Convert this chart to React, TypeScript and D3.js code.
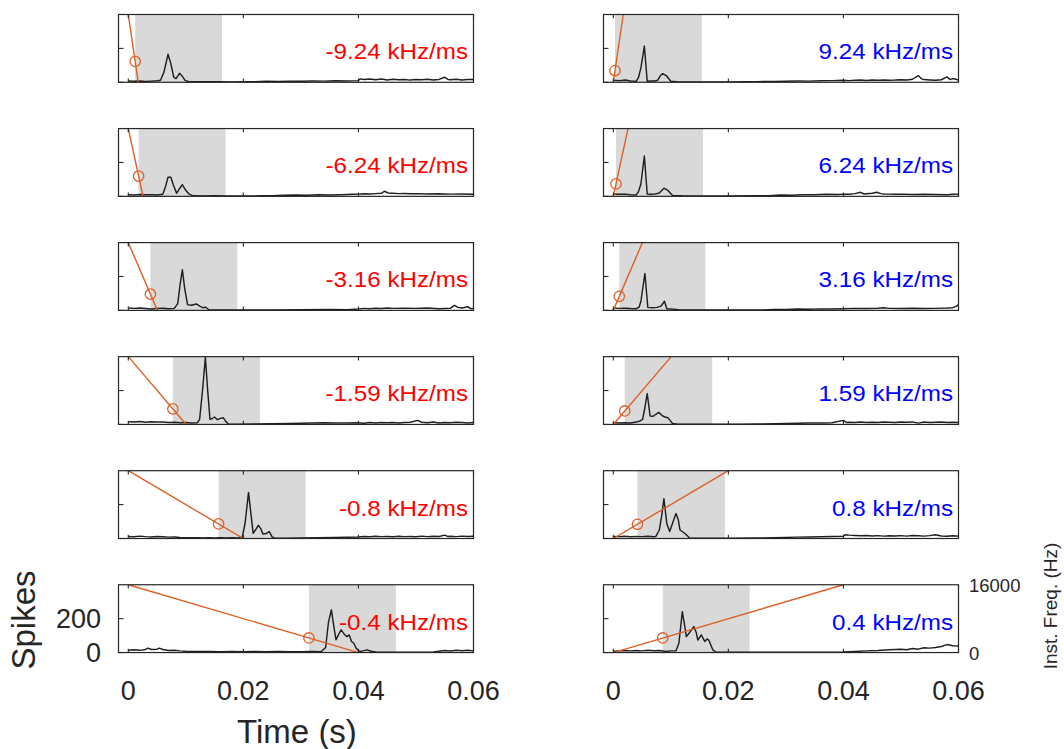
import React from "react";
import * as d3 from "d3";

// ---------- data ----------
const negSlopes = [-9.24, -6.24, -3.16, -1.59, -0.8, -0.4]; // kHz/ms, left column
const posSlopes = [9.24, 6.24, 3.16, 1.59, 0.8, 0.4]; // kHz/ms, right column

// analysis window (ms): start (also the circle position) and end
const negWinStart = [1.2, 1.8, 3.85, 7.75, 15.7, 31.4];
const negWinEnd = [16.3, 16.9, 18.95, 22.9, 30.8, 46.5];
const posWinStart = [0.3, 0.47, 1.05, 2.0, 4.2, 8.6];
const posWinEnd = [15.4, 15.6, 16.0, 17.2, 19.4, 23.7];

const xTicks = [0, 20, 40, 60]; // ms
const xTickLabels = ["0", "0.02", "0.04", "0.06"];
const yTicks = [0, 200];
const freqMax = 16000;
const spikeMax = 400;

// PSTH curves [ms, spikes]
const psthL1 = [[0,8],[1,6],[2,8],[3,5],[4,7],[5,9],[5.6,12],[6.2,60],[6.9,165],[7.4,110],[7.9,30],[8.3,22],[8.9,53],[9.4,35],[9.9,10],[10.5,5],[12,3],[14,4],[16,3],[18,2],[20,3],[22,4],[24,6],[26,5],[28,7],[30,6],[32,8],[34,7],[36,9],[38,8],[40,10],[40.3,20],[41,16],[42,20],[43,15],[44,19],[45,14],[46,18],[47,15],[48,17],[49,13],[50,16],[51,15],[52,18],[53,14],[54,17],[55,30],[55.6,16],[56,15],[57,18],[58,14],[59,17],[60,16]];
const psthL2 = [[0,10],[1,8],[2,11],[3,9],[4,10],[5,8],[6,12],[6.5,60],[6.9,113],[7.4,113],[7.8,70],[8.4,18],[8.9,45],[9.4,69],[9.9,40],[10.5,15],[11.3,3],[13,2],[15,3],[17,2],[20,2],[23,3],[25,4],[27,6],[29,8],[31,7],[33,9],[35,8],[37,10],[39,12],[40,13],[41,15],[42,14],[43,16],[44,18],[44.5,30],[45.2,20],[46,18],[47,16],[48,17],[49,15],[50,16],[52,14],[54,15],[56,13],[58,14],[60,12]];
const psthL3 = [[0,14],[1,12],[2,14],[3,11],[4,8],[5,12],[6,13],[7,10],[8,12],[8.6,40],[9.0,150],[9.4,240],[9.8,130],[10.3,34],[11,30],[11.8,38],[12.5,24],[13,15],[13.4,20],[14,4],[16,2],[20,2],[25,3],[30,4],[35,5],[38,4],[40,8],[41,12],[42,10],[43,13],[44,11],[45,14],[46,12],[48,13],[50,12],[52,14],[54,10],[56,13],[56.7,30],[57.3,18],[58,14],[59,22],[59.5,10],[60,12]];
const psthL4 = [[0,16],[1,14],[2,17],[3,13],[4,16],[5,14],[6,15],[7,12],[8,13],[9,10],[10,11],[11,9],[12,10],[12.4,30],[12.9,200],[13.4,396],[13.8,200],[14.2,30],[14.6,35],[15,44],[15.5,28],[16,36],[16.5,40],[17,15],[17.4,3],[19,2],[22,3],[25,4],[28,6],[30,7],[32,8],[34,10],[36,8],[38,9],[40,10],[41,7],[42,11],[43,9],[44,12],[45,10],[46,12],[47,9],[48,11],[49,13],[50.3,24],[51,13],[52,10],[53,14],[54,9],[55,12],[56,10],[57,13],[58,11],[59,9],[60,12]];
const psthL5 = [[0,12],[1,10],[2,14],[3,11],[4,9],[5,12],[6,10],[7,8],[8,9],[9,6],[10,5],[11,4],[12,4],[13,3],[14,4],[15,3],[16,4],[17,3],[18,4],[19,3],[19.8,6],[20.3,90],[20.9,272],[21.3,150],[21.7,31],[22.1,50],[22.6,78],[23.0,60],[23.4,27],[24.0,30],[24.5,41],[25,10],[25.5,2],[27,2],[30,3],[33,4],[36,6],[38,7],[40,9],[41,12],[42,10],[43,13],[44,11],[45,12],[46,10],[47,13],[48,11],[49,12],[50,10],[51,14],[52,11],[53,13],[54,12],[55,20],[55.5,12],[56,13],[57,11],[58,14],[59,12],[60,13]];
const psthL6 = [[0,14],[1,16],[2,13],[3,18],[3.4,26],[4,18],[5,20],[5.4,26],[6,18],[7,12],[8,14],[9,10],[10,8],[12,6],[14,6],[16,5],[18,6],[20,5],[22,6],[24,5],[26,6],[28,5],[30,5],[32,6],[33.5,5],[34.3,30],[34.8,180],[35.3,252],[35.7,160],[36.1,75],[36.6,110],[37.0,134],[37.5,110],[38.0,94],[38.4,104],[38.8,65],[39.2,55],[39.6,26],[40.2,6],[40.8,10],[41.5,16],[42.2,8],[43,3],[46,2],[50,2],[53,3],[54,8],[55,12],[56,9],[57,14],[58,11],[59,13],[60,10]];

const psthR1 = [[0,12],[1,10],[2.1,14],[3,8],[4,6],[4.4,30],[4.8,85],[5.4,214],[5.9,6],[6.5,8],[7.2,8],[7.7,12],[8.2,40],[8.6,51],[9.2,40],[10,6],[11,3],[13,2],[16,2],[20,2],[23,3],[25,4],[28,5],[30,6],[32,8],[34,7],[36,9],[38,10],[40,12],[41,10],[42,12],[43,14],[44,11],[45,13],[46,12],[47,14],[48,12],[49,13],[50,15],[51,14],[52,18],[53,40],[53.6,20],[54,16],[55,14],[56,12],[57,15],[58,32],[58.5,16],[59,22],[60,14]];
const psthR2 = [[0,14],[1,12],[2,13],[3,10],[4,8],[4.4,30],[4.8,73],[5.4,238],[5.9,14],[6.5,12],[7.2,13],[8,20],[8.8,48],[9.5,35],[10.3,5],[12,3],[15,2],[20,2],[25,3],[27,4],[29,8],[31,7],[33,10],[35,9],[37,12],[39,11],[40,13],[41,12],[42,16],[43,24],[43.6,14],[44,15],[45,18],[45.8,24],[46.5,16],[47,14],[48,13],[49,12],[50,13],[52,11],[54,12],[56,11],[58,10],[59,12],[60,13]];
const psthR3 = [[0,14],[1,12],[2,13],[3,11],[4,10],[4.5,20],[4.8,54],[5.5,218],[6.0,18],[6.8,16],[7.6,18],[8.3,25],[8.9,54],[9.3,10],[10,8],[10.9,6],[11.5,3],[14,2],[18,2],[22,2],[26,3],[28,5],[30,6],[32,8],[34,7],[36,9],[38,8],[40,10],[42,12],[44,11],[46,13],[47,16],[48,12],[50,11],[52,13],[54,11],[56,12],[58,14],[59,16],[59.6,24],[60,34]];
const psthR4 = [[0,10],[1,8],[2,10],[3,9],[4,14],[4.6,20],[5.1,30],[5.5,100],[5.9,182],[6.4,50],[6.9,48],[7.4,60],[7.9,71],[8.6,50],[9.0,44],[9.5,40],[10.0,18],[10.3,6],[11,3],[14,2],[18,2],[22,2],[25,3],[28,4],[30,6],[32,7],[34,8],[36,9],[38,10],[40,24],[40.5,12],[41,13],[42,12],[43,14],[44,12],[45,13],[46,11],[47,14],[48,13],[49,12],[50,14],[51,13],[52,15],[53,8],[54,14],[55,12],[56,13],[57,14],[58,12],[59,13],[60,11]];
const psthR5 = [[0,12],[1,11],[2,13],[3,10],[4,12],[5,11],[6,13],[7,10],[7.4,12],[8,50],[8.4,130],[8.8,235],[9.3,89],[9.8,41],[10.3,90],[10.9,147],[11.3,110],[11.6,50],[12.4,31],[13.0,12],[13.3,2],[15,2],[20,2],[25,3],[28,5],[30,6],[32,8],[34,9],[36,10],[38,12],[40,13],[40.3,22],[41,20],[42,18],[43,16],[44,18],[45,15],[46,17],[47,14],[48,16],[49,15],[50,17],[51,14],[52,18],[53,16],[54,14],[55,17],[56,22],[57,15],[58,13],[59,16],[60,14]];
const psthR6 = [[0,8],[1,10],[2,12],[3,10],[4,12],[5,10],[6,13],[7,11],[8,12],[9.2,6],[10,10],[10.9,10],[11.4,55],[12.0,241],[12.4,160],[12.7,94],[13.3,120],[14.0,153],[14.4,120],[14.7,74],[15.3,104],[15.9,65],[16.3,80],[16.6,74],[17.0,40],[17.3,16],[17.8,3],[20,2],[25,2],[30,2],[35,2],[40,3],[42,6],[44,10],[46,12],[48,16],[50,20],[51,17],[52,24],[53,20],[54,28],[55,26],[56,30],[57,36],[58,47],[59,40],[60,39]];

const negPsth = [psthL1, psthL2, psthL3, psthL4, psthL5, psthL6];
const posPsth = [psthR1, psthR2, psthR3, psthR4, psthR5, psthR6];

// ---------- layout ----------
const W = 1064;
const H = 749;
const colX = [118.5, 603.5];
const panelW = 355;
const panelH = 67.8;
const rowTop0 = 14.5;
const rowStep = 114.05;
const FONT = "'Liberation Sans', Arial, Helvetica, sans-serif";
const AX = "#262626";
const ORANGE = "#DE5F25";

type PanelProps = {
  x0: number;
  top: number;
  slope: number;
  psth: number[][];
  winStart: number;
  winEnd: number;
  idx: string;
};

function Panel({ x0, top, slope, psth, winStart, winEnd, idx }: PanelProps) {
  const x = d3.scaleLinear().domain([-1.7, 60]).range([x0, x0 + panelW]);
  const y = d3.scaleLinear().domain([0, spikeMax]).range([top + panelH, top]);
  const yf = d3.scaleLinear().domain([0, freqMax]).range([top + panelH, top]);

  const line = d3
    .line<number[]>()
    .x((d) => x(d[0]))
    .y((d) => y(d[1]));

  // sweep: frequency (Hz) vs time (ms); slope in kHz/ms = 1000 Hz/ms
  const sweepDur = freqMax / (Math.abs(slope) * 1000);
  const f0 = slope < 0 ? freqMax : 0;
  const f1 = slope < 0 ? 0 : freqMax;
  const sweepPts = [
    [0, f0],
    [sweepDur, f1],
  ];
  const sweepLine = d3
    .line<number[]>()
    .x((d) => x(d[0]))
    .y((d) => yf(d[1]));
  const circF = f0 + slope * 1000 * winStart;

  const clipId = `clip-${idx}`;
  const label = `${slope} kHz/ms`;
  const right = x0 + panelW;
  const bottom = top + panelH;

  return (
    <g>
      <defs>
        <clipPath id={clipId}>
          <rect x={x0} y={top} width={panelW} height={panelH} />
        </clipPath>
      </defs>
      <rect
        x={x(winStart)}
        y={top}
        width={x(winEnd) - x(winStart)}
        height={panelH}
        fill="#d9d9d9"
      />
      <g clipPath={`url(#${clipId})`}>
        <path d={line(psth) || ""} fill="none" stroke="#1f1f1f" strokeWidth={1.45} strokeLinejoin="round" />
        <path d={sweepLine(sweepPts) || ""} fill="none" stroke={ORANGE} strokeWidth={1.4} />
      </g>
      <circle cx={x(winStart)} cy={yf(circF)} r={5.2} fill="none" stroke={ORANGE} strokeWidth={1.3} />
      {/* box */}
      <rect x={x0} y={top} width={panelW} height={panelH} fill="none" stroke={AX} strokeWidth={1.2} />
      {xTicks.map((t) => (
        <g key={t}>
          <line x1={x(t)} x2={x(t)} y1={bottom} y2={bottom - 3.8} stroke={AX} strokeWidth={1.1} />
          <line x1={x(t)} x2={x(t)} y1={top} y2={top + 3.8} stroke={AX} strokeWidth={1.1} />
        </g>
      ))}
      {yTicks.map((v) => (
        <line key={v} x1={x0} x2={x0 + 5} y1={y(v)} y2={y(v)} stroke={AX} strokeWidth={1.1} />
      ))}
      <text
        transform={`translate(${right - 5.5},${top + 44.8}) scale(1.1,1)`}
        textAnchor="end"
        fontFamily={FONT}
        fontSize={22}
        fill={slope < 0 ? "#ff0000" : "#0000ff"}
      >
        {label}
      </text>
    </g>
  );
}

export default function App() {
  const rows = negSlopes.map((_, i) => rowTop0 + i * rowStep);
  const lastTop = rows[rows.length - 1];
  const lastBottom = lastTop + panelH;
  const xl = d3.scaleLinear().domain([-1.7, 60]).range([colX[0], colX[0] + panelW]);
  const xr = d3.scaleLinear().domain([-1.7, 60]).range([colX[1], colX[1] + panelW]);
  const yl = d3.scaleLinear().domain([0, spikeMax]).range([lastBottom, lastTop]);
  const yf = d3.scaleLinear().domain([0, freqMax]).range([lastBottom, lastTop]);

  return (
    <svg
      width={W}
      height={H}
      viewBox={`0 0 ${W} ${H}`}
      style={{ position: "absolute", left: 0, top: 0, background: "#fff" }}
    >
      <rect x={0} y={0} width={W} height={H} fill="#fff" />
      {rows.map((top, i) => (
        <g key={i}>
          <Panel
            x0={colX[0]}
            top={top}
            slope={negSlopes[i]}
            psth={negPsth[i]}
            winStart={negWinStart[i]}
            winEnd={negWinEnd[i]}
            idx={`n${i}`}
          />
          <Panel
            x0={colX[1]}
            top={top}
            slope={posSlopes[i]}
            psth={posPsth[i]}
            winStart={posWinStart[i]}
            winEnd={posWinEnd[i]}
            idx={`p${i}`}
          />
        </g>
      ))}

      {/* x tick labels */}
      {xTicks.map((t, i) => (
        <g key={t}>
          <text x={xl(t)} y={700} textAnchor="middle" fontFamily={FONT} fontSize={27} fill={AX}>
            {xTickLabels[i]}
          </text>
          <text x={xr(t)} y={700} textAnchor="middle" fontFamily={FONT} fontSize={27} fill={AX}>
            {xTickLabels[i]}
          </text>
        </g>
      ))}

      {/* left y tick labels */}
      {yTicks.map((v) => (
        <text key={v} x={101} y={yl(v) + 9.5} textAnchor="end" fontFamily={FONT} fontSize={27} fill={AX}>
          {String(v)}
        </text>
      ))}

      {/* right freq labels */}
      <text x={969} y={yf(freqMax) + 7.5} fontFamily={FONT} fontSize={18.5} fill={AX}>
        {String(freqMax)}
      </text>
      <text x={969} y={yf(0) + 7} fontFamily={FONT} fontSize={18.5} fill={AX}>
        0
      </text>

      {/* axis titles */}
      <text x={297} y={743} textAnchor="middle" fontFamily={FONT} fontSize={33} fill={AX}>
        Time (s)
      </text>
      <text
        transform={`translate(35,620) rotate(-90)`}
        textAnchor="middle"
        fontFamily={FONT}
        fontSize={33}
        fill={AX}
      >
        Spikes
      </text>
      <text
        transform={`translate(1057,606) rotate(-90)`}
        textAnchor="middle"
        fontFamily={FONT}
        fontSize={19}
        fill={AX}
      >
        Inst. Freq. (Hz)
      </text>
    </svg>
  );
}
